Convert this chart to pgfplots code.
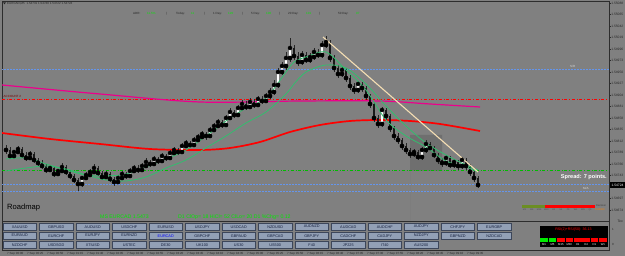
\documentclass[border=0pt]{standalone}
\usepackage{pgfplots}
\usepackage{pgfplotstable}
\pgfplotsset{compat=1.18}
\usepackage{fontspec}
\setmainfont{Liberation Sans}
\definecolor{mtgray}{RGB}{128,128,128}
\definecolor{mtdark}{RGB}{45,45,45}
\definecolor{btnfill}{RGB}{146,160,182}
\definecolor{btnedge}{RGB}{60,70,90}
\definecolor{btntext}{RGB}{20,30,60}
\definecolor{limetxt}{RGB}{0,235,0}
\definecolor{magreen}{RGB}{50,190,110}
\definecolor{trendc}{RGB}{245,222,179}
\definecolor{srblue}{RGB}{100,149,237}
\definecolor{olivebar}{RGB}{107,142,35}

\pgfplotstableread{
i o h l c
0 1.54798 1.54804 1.54786 1.54794
1 1.54794 1.54800 1.54776 1.54782
2 1.54782 1.54794 1.54778 1.54790
3 1.54790 1.54802 1.54786 1.54796
4 1.54796 1.54800 1.54778 1.54784
5 1.54784 1.54790 1.54772 1.54778
6 1.54778 1.54792 1.54774 1.54786
7 1.54786 1.54790 1.54768 1.54774
8 1.54774 1.54778 1.54762 1.54768
9 1.54768 1.54774 1.54756 1.54762
10 1.54762 1.54766 1.54748 1.54754
11 1.54754 1.54764 1.54750 1.54758
12 1.54758 1.54762 1.54740 1.54746
13 1.54746 1.54756 1.54742 1.54752
14 1.54752 1.54768 1.54748 1.54760
15 1.54760 1.54764 1.54744 1.54750
16 1.54750 1.54754 1.54736 1.54742
17 1.54742 1.54746 1.54728 1.54734
18 1.54734 1.54738 1.54712 1.54726
19 1.54726 1.54742 1.54720 1.54738
20 1.54738 1.54750 1.54734 1.54744
21 1.54744 1.54756 1.54740 1.54750
22 1.54750 1.54766 1.54746 1.54758
23 1.54758 1.54762 1.54742 1.54748
24 1.54748 1.54752 1.54734 1.54740
25 1.54740 1.54752 1.54736 1.54746
26 1.54746 1.54750 1.54730 1.54736
27 1.54736 1.54740 1.54722 1.54730
28 1.54730 1.54744 1.54726 1.54738
29 1.54738 1.54752 1.54734 1.54746
30 1.54746 1.54750 1.54736 1.54742
31 1.54742 1.54758 1.54738 1.54752
32 1.54752 1.54764 1.54748 1.54758
33 1.54758 1.54764 1.54748 1.54754
34 1.54754 1.54768 1.54750 1.54762
35 1.54762 1.54778 1.54758 1.54770
36 1.54770 1.54774 1.54760 1.54766
37 1.54766 1.54782 1.54762 1.54776
38 1.54776 1.54780 1.54766 1.54772
39 1.54772 1.54788 1.54768 1.54782
40 1.54782 1.54786 1.54772 1.54778
41 1.54778 1.54794 1.54774 1.54788
42 1.54788 1.54800 1.54784 1.54794
43 1.54794 1.54798 1.54784 1.54790
44 1.54790 1.54808 1.54786 1.54802
45 1.54802 1.54814 1.54798 1.54808
46 1.54808 1.54812 1.54798 1.54804
47 1.54804 1.54820 1.54800 1.54814
48 1.54814 1.54826 1.54810 1.54820
49 1.54820 1.54832 1.54816 1.54826
50 1.54826 1.54830 1.54814 1.54822
51 1.54822 1.54840 1.54818 1.54834
52 1.54834 1.54848 1.54830 1.54842
53 1.54842 1.54856 1.54838 1.54850
54 1.54850 1.54854 1.54838 1.54844
55 1.54844 1.54864 1.54840 1.54858
56 1.54858 1.54878 1.54854 1.54870
57 1.54870 1.54874 1.54858 1.54864
58 1.54864 1.54884 1.54860 1.54878
59 1.54878 1.54894 1.54874 1.54886
60 1.54886 1.54892 1.54874 1.54880
61 1.54880 1.54898 1.54876 1.54890
62 1.54890 1.54896 1.54878 1.54884
63 1.54884 1.54902 1.54880 1.54896
64 1.54896 1.54902 1.54886 1.54892
65 1.54892 1.54908 1.54888 1.54902
66 1.54902 1.54918 1.54896 1.54910
67 1.54910 1.54934 1.54904 1.54924
68 1.54924 1.54958 1.54918 1.54950
69 1.54950 1.54970 1.54944 1.54962
70 1.54962 1.54990 1.54954 1.54978
71 1.54978 1.55018 1.54970 1.54998
72 1.54998 1.55004 1.54974 1.54982
73 1.54982 1.54990 1.54962 1.54970
74 1.54970 1.54992 1.54964 1.54984
75 1.54984 1.54990 1.54968 1.54974
76 1.54974 1.54988 1.54968 1.54980
77 1.54980 1.54998 1.54974 1.54990
78 1.54990 1.54996 1.54978 1.54984
79 1.54984 1.55012 1.54978 1.55004
80 1.55004 1.55022 1.54998 1.55010
81 1.55010 1.55014 1.54970 1.54978
82 1.54978 1.54984 1.54950 1.54958
83 1.54958 1.54964 1.54938 1.54946
84 1.54946 1.54960 1.54940 1.54954
85 1.54954 1.54958 1.54930 1.54938
86 1.54938 1.54944 1.54914 1.54922
87 1.54922 1.54928 1.54906 1.54914
88 1.54914 1.54932 1.54908 1.54926
89 1.54926 1.54930 1.54910 1.54918
90 1.54918 1.54922 1.54894 1.54902
91 1.54902 1.54906 1.54878 1.54886
92 1.54886 1.54890 1.54850 1.54858
93 1.54858 1.54864 1.54838 1.54846
94 1.54846 1.54880 1.54840 1.54874
95 1.54874 1.54878 1.54854 1.54862
96 1.54862 1.54866 1.54830 1.54838
97 1.54838 1.54842 1.54814 1.54822
98 1.54822 1.54828 1.54806 1.54814
99 1.54814 1.54818 1.54794 1.54802
100 1.54802 1.54808 1.54786 1.54794
101 1.54794 1.54798 1.54778 1.54786
102 1.54786 1.54796 1.54780 1.54790
103 1.54790 1.54794 1.54774 1.54780
104 1.54780 1.54800 1.54774 1.54794
105 1.54794 1.54814 1.54788 1.54806
106 1.54806 1.54810 1.54792 1.54798
107 1.54798 1.54802 1.54778 1.54784
108 1.54784 1.54788 1.54766 1.54774
109 1.54774 1.54778 1.54760 1.54768
110 1.54768 1.54784 1.54762 1.54778
111 1.54778 1.54782 1.54758 1.54764
112 1.54764 1.54776 1.54758 1.54770
113 1.54770 1.54774 1.54754 1.54762
114 1.54762 1.54780 1.54756 1.54774
115 1.54774 1.54778 1.54754 1.54762
116 1.54762 1.54766 1.54742 1.54750
117 1.54750 1.54754 1.54730 1.54738
118 1.54738 1.54742 1.54718 1.54724
}\candles

\begin{document}
\begin{tikzpicture}
\begin{scope}[shift={(0pt,256pt)},x=1pt,y=-1pt]
\useasboundingbox (0,0) rectangle (625,256);
\fill[mtgray] (0,0) rectangle (625,256);
\end{scope}

\begin{axis}[
  at={(2pt,6pt)}, anchor=south west,
  width=607pt, height=249pt, scale only axis,
  xmin=-1, xmax=150.75,
  ymin=1.54594, ymax=1.55092,
  axis background/.style={fill=mtgray},
  axis line style={draw=mtdark, line width=0.6pt},
  clip=true,
  xtick pos=bottom, ytick pos=right,
  yticklabel pos=right,
  tick align=outside,
  major tick length=1.5pt,
  tick style={draw=mtdark, line width=0.4pt},
  scaled y ticks=false,
  ytick={1.54674,1.54697,1.54743,1.54766,1.54789,1.54812,1.54835,1.54858,1.54881,1.54904,1.54927,1.54950,1.54973,1.54996,1.55019,1.55042,1.55065,1.55088},
  yticklabel style={font=\fontsize{3.3}{3.6}\selectfont, text=black!85, anchor=west, inner sep=0.6pt,
     /pgf/number format/fixed, /pgf/number format/fixed zerofill, /pgf/number format/precision=5},
  xtick={0,5,...,115},
  xticklabels={7 Sep 00:00,7 Sep 00:25,7 Sep 00:50,7 Sep 01:15,7 Sep 01:40,7 Sep 02:05,7 Sep 02:30,7 Sep 02:55,7 Sep 03:20,7 Sep 03:45,7 Sep 04:10,7 Sep 04:35,7 Sep 05:00,7 Sep 05:25,7 Sep 05:50,7 Sep 06:15,7 Sep 06:40,7 Sep 07:05,7 Sep 07:30,7 Sep 07:55,7 Sep 08:20,7 Sep 08:45,7 Sep 09:10,7 Sep 09:35},
  xticklabel style={font=\fontsize{3}{3.3}\selectfont, text=black!85, anchor=north west, inner sep=0.5pt, xshift=0.5pt},
  /pgf/number format/assume math mode=true,
]
% shaded rectangle
\addplot[fill=black, fill opacity=0.13, draw=none, forget plot] coordinates {(101,1.54824) (109,1.54824) (109,1.54752) (101,1.54752)} \closedcycle;
% horizontal levels
\addplot[red, dash dot, line width=0.6pt, forget plot] coordinates {(-1,1.54896) (150.75,1.54896)};
\addplot[limetxt!80!black, dash dot, line width=0.6pt, forget plot] coordinates {(-1,1.54754) (150.75,1.54754)};
\addplot[srblue, densely dotted, line width=0.5pt, forget plot] coordinates {(-1,1.54956) (150.75,1.54956)};
\addplot[srblue, densely dotted, line width=0.5pt, forget plot] coordinates {(-1,1.54726) (150.75,1.54726)};
\addplot[srblue, densely dotted, line width=0.5pt, forget plot] coordinates {(-1,1.54712) (150.75,1.54712)};
% red MA
\addplot[red, line width=1.7pt, smooth, forget plot] coordinates {(-1,1.54828) (11,1.54816) (23.5,1.54806) (36,1.54796) (48.5,1.54794) (56,1.54798) (63.5,1.54810) (71,1.54830) (78.5,1.54844) (86,1.54852) (93.5,1.54854) (101,1.54852) (108.5,1.54846) (118.5,1.54832)};
% magenta MA
\addplot[magenta, line width=1.2pt, smooth, forget plot] coordinates {(-1,1.54924) (23.5,1.54906) (48.5,1.54890) (73.5,1.54892) (93.5,1.54892) (106,1.54886) (118.5,1.54880)};
% wicks
\addplot[only marks, mark=none, forget plot,
  error bars/.cd, y dir=both, y explicit, error mark=none,
  error bar style={line width=0.5pt, draw=black!85}]
  table[x=i, y=c, y error plus expr={\thisrow{h}-\thisrow{c}}, y error minus expr={\thisrow{c}-\thisrow{l}}] {\candles};
% bear bodies
\addplot[only marks, mark=none, forget plot,
  error bars/.cd, y dir=plus, y explicit, error mark=none,
  error bar style={line width=2.2pt, draw=black!90}]
  table[x=i, y expr={\thisrow{c}<\thisrow{o} ? \thisrow{c} : nan}, y error plus expr={\thisrow{o}-\thisrow{c}}] {\candles};
% bull bodies
\addplot[only marks, mark=none, forget plot,
  error bars/.cd, y dir=plus, y explicit, error mark=none,
  error bar style={line width=2.2pt, draw=black!90}]
  table[x=i, y expr={\thisrow{c}>\thisrow{o} ? \thisrow{o} : nan}, y error plus expr={\thisrow{c}-\thisrow{o}}] {\candles};
\addplot[only marks, mark=none, forget plot,
  error bars/.cd, y dir=plus, y explicit, error mark=none,
  error bar style={line width=1.3pt, draw=white}]
  table[x=i, y expr={\thisrow{c}>\thisrow{o} ? \thisrow{o} : nan}, y error plus expr={\thisrow{c}-\thisrow{o}}] {\candles};
% green MAs
\addplot[magreen, line width=0.8pt, smooth, forget plot] coordinates {(0,1.54776) (5,1.54778) (10,1.54766) (15,1.54754) (20,1.54744) (25,1.54742) (30,1.54746) (35,1.54760) (40,1.54776) (45,1.54794) (50,1.54822) (55,1.54852) (60,1.54878) (65,1.54898) (70,1.54950) (72,1.54970) (75,1.54980) (80,1.54990) (85,1.54954) (90,1.54914) (95,1.54854) (100,1.54822) (105,1.54800) (110,1.54772) (115,1.54760) (118,1.54750)};
\addplot[magreen, line width=0.8pt, smooth, forget plot] coordinates {(0,1.54752) (5,1.54758) (10,1.54762) (15,1.54756) (20,1.54744) (25,1.54734) (30,1.54732) (35,1.54740) (40,1.54758) (45,1.54774) (50,1.54798) (55,1.54822) (60,1.54848) (65,1.54870) (70,1.54906) (72,1.54926) (75,1.54950) (80,1.54964) (85,1.54958) (90,1.54926) (95,1.54882) (100,1.54842) (105,1.54808) (110,1.54784) (115,1.54764) (118,1.54754)};
% trend line
\addplot[trendc, line width=1.1pt, forget plot] coordinates {(79.25,1.55020) (118,1.54750)};
\end{axis}

\begin{scope}[shift={(0pt,256pt)},x=1pt,y=-1pt]
% title and header info
\fill[black!85] (3,2.3) -- (6,2.3) -- (4.5,4.3) -- cycle;
\node[anchor=west, inner sep=0pt, font=\fontsize{3}{3.3}\selectfont, text=black!85] at (7,3.3) {EURCAD,M5\ \ 1.54731 1.54740 1.54722 1.54724};
\begin{scope}[every node/.style={anchor=west, inner sep=0pt, font=\fontsize{3}{3.3}\selectfont}]
\node[text=black!85] at (133,13.3) {ADR:};
\node[text=limetxt] at (147,13.3) {11.5\%};
\node[text=black!85] at (165.5,13.3) {|};
\node[text=black!85] at (176,13.3) {Today:};
\node[text=limetxt] at (191,13.3) {11};
\node[text=black!85] at (203.5,13.3) {|};
\node[text=black!85] at (213,13.3) {1 Day:};
\node[text=limetxt] at (228,13.3) {120};
\node[text=black!85] at (241.5,13.3) {|};
\node[text=black!85] at (251,13.3) {5 Day:};
\node[text=limetxt] at (266,13.3) {100};
\node[text=black!85] at (278.5,13.3) {|};
\node[text=black!85] at (288,13.3) {20 Day:};
\node[text=limetxt] at (306,13.3) {101};
\node[text=black!85] at (318.5,13.3) {|};
\node[text=black!85] at (338,13.3) {50 Day:};
\node[text=limetxt] at (356,13.3) {97};
\node[text=red!45!black] at (3.5,96.5) {ACCOUNT 2};
\node[text=white!85!black] at (570,66) {S/R};
\node[text=white!85!black] at (583,188.5) {M/A};
\end{scope}
% separator of the chart window
\draw[mtdark, line width=0.6pt] (2,221.5) -- (609,221.5);
% texts
\node[anchor=west, inner sep=0pt, font=\fontsize{7.6}{8}\selectfont, text=black] at (7,207.5) {Roadmap};
\node[anchor=west, inner sep=0pt, font=\fontsize{5.2}{5.6}\selectfont, text=limetxt] at (100,216.8) {MS EURCAD 1.5473};
\node[anchor=west, inner sep=0pt, font=\fontsize{5.2}{5.6}\selectfont, text=limetxt] at (178,216.8) {D1 ClOp= 18 HiCl= 52 ClLo= 20 D1 \%Chg= 0.12};
\node[anchor=east, inner sep=0pt, font=\bfseries\fontsize{5.6}{6}\selectfont, text=white] at (607,177) {Spread: 7 points.};
\node[anchor=east, inner sep=0pt, font=\fontsize{3.4}{3.6}\selectfont, text=black!85] at (623,221.5) {Tex};
% current price
\fill[black] (610,182.5) rectangle (625,188.5);
\node[inner sep=0pt, font=\fontsize{3.3}{3.6}\selectfont, text=white] at (617.5,185.5) {1.54724};
% top-right status bar
\fill[olivebar] (522,204.8) rectangle (545,207.6);
\fill[red] (545,204.8) rectangle (595,207.6);
\node[anchor=west, inner sep=0pt, font=\fontsize{2.6}{3}\selectfont, text=black!75] at (596,205.5) {Decision};
\node[anchor=west, inner sep=0pt, font=\fontsize{2.6}{3}\selectfont, text=orange] at (595,209.5) {0.00000};
\foreach \t [count=\k from 0] in {M1,M5,M15,M30,H1,H4,D1,W1,MN,Q1} {
  \node[inner sep=0pt, font=\fontsize{2.3}{2.6}\selectfont, text=black!70] at ({524.5+7.3*\k},210) {\t};
}
% buttons
\tikzset{btn/.style={fill=btnfill, draw=btnedge, line width=0.4pt},
         btntxt/.style={inner sep=0pt, font=\fontsize{3.8}{4}\selectfont}}
\foreach \n [count=\k from 0] in {XAUUSD,GBPUSD,AUDUSD,USDCHF,EURUSD,USDJPY,USDCAD,NZDUSD,AUDNZD,AUDCAD,AUDCHF,AUDJPY,CHFJPY,EURGBP} {
  \draw[btn] ({3+36.5*\k},223.4) rectangle ++(33.5,6.6);
  \node[btntxt, text=btntext] at ({3+36.5*\k+16.75},226.7) {\n};
}
\foreach \n/\cc [count=\k from 0] in {EURAUD/btntext,EURCHF/btntext,EURJPY/btntext,EURNZD/btntext,EURCAD/blue,GBPCHF/btntext,GBPAUD/btntext,GBPCAD/btntext,GBPJPY/btntext,CADCHF/btntext,CADJPY/btntext,NZDJPY/btntext,GBPNZD/btntext,NZDCAD/btntext} {
  \draw[btn] ({3+36.5*\k},232.4) rectangle ++(33.5,6.6);
  \node[btntxt, text=\cc] at ({3+36.5*\k+16.75},235.7) {\n};
}
\foreach \n [count=\k from 0] in {NZDCHF,USDSGD,XTIUSD,USTEC,DE30,UK100,US30,US500,F40,JP225,IT40,AUS200} {
  \draw[btn] ({3+36.5*\k},241.4) rectangle ++(33.5,6.6);
  \node[btntxt, text=btntext] at ({3+36.5*\k+16.75},244.7) {\n};
}
% bottom-right widget
\fill[black] (539.5,226.3) rectangle (607.5,247.5);
\node[inner sep=0pt, font=\fontsize{3.6}{4}\selectfont, text=red] at (573.5,229.3) {RSI(2)+RSI(50): 36.13};
\foreach \cc [count=\k from 0] in {limetxt,limetxt,red,red,red,red,red,red} {
  \fill[\cc] ({540.3+8.4*\k},237.6) rectangle ++(7.6,4.3);
}
\foreach \t [count=\k from 0] in {M1,M5,M15,M30,H1,H4,D1,W1} {
  \node[inner sep=0pt, font=\fontsize{2.8}{3}\selectfont, text=white] at ({544.1+8.4*\k},244.6) {\t};
}
\node[anchor=west, inner sep=0pt, font=\fontsize{3}{3.3}\selectfont, text=black!85] at (612,229) {1};
\node[anchor=west, inner sep=0pt, font=\fontsize{3}{3.3}\selectfont, text=black!85] at (612,244) {0};
\end{scope}
\end{tikzpicture}
\end{document}
